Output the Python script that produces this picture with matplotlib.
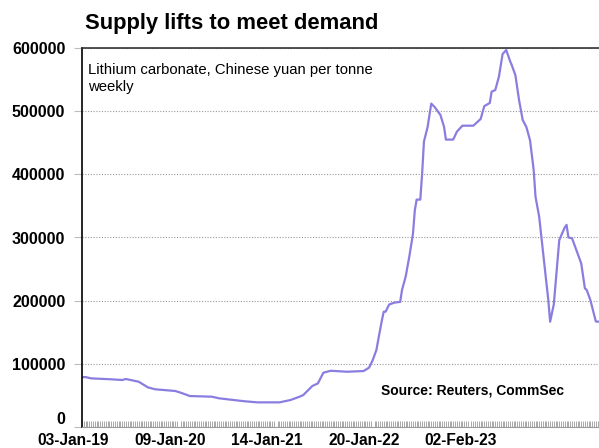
import matplotlib
matplotlib.use("Agg")
import matplotlib.pyplot as plt
import matplotlib.transforms as mtransforms
from matplotlib.ticker import FixedLocator, MultipleLocator, NullFormatter

# Weekly lithium carbonate price (CNY per tonne), indexed by week number
week = [0, 2, 5, 16, 22, 24, 31, 36, 40, 51, 54, 59, 71, 75, 89, 96, 108, 114,
        119, 121, 126, 129, 132, 136, 145, 154, 157, 159, 161, 162, 164, 165,
        166, 168, 171, 174, 175, 177, 179, 181, 182, 183, 185, 186, 187, 189,
        191, 193, 196, 198, 199, 203, 205, 208, 214, 218, 220, 223, 224, 226,
        228, 230, 232, 234, 235, 237, 239, 241, 243, 245, 247, 248, 250, 253,
        255, 256, 258, 261, 264, 265, 266, 268, 273, 275, 276, 278, 281, 283]
price = [79000, 79000, 77000, 75500, 74400, 76000, 71700, 62800, 59700, 57000,
         54300, 49000, 48000, 45400, 40700, 39000, 39000, 42700, 48000, 50600,
         65000, 69000, 86000, 89000, 87500, 88600, 94000, 106000, 122000,
         138000, 169000, 182500, 182500, 194000, 197000, 198000, 217000,
         238000, 270000, 306000, 343000, 360000, 360000, 401000, 452000,
         475000, 512000, 506000, 494000, 475000, 455000, 455000, 467500,
         477000, 477000, 487600, 508000, 513000, 530800, 533500, 554600,
         590500, 596800, 580000, 573000, 557000, 517700, 486000, 475000,
         454000, 407000, 364600, 333000, 253600, 201000, 166700, 194000,
         296000, 316000, 320000, 300000, 298700, 259000, 219600, 217000,
         201000, 167000, 166700]

tick_weeks = [0, 53, 106, 159, 212]
tick_labels = ["03-Jan-19", "09-Jan-20", "14-Jan-21", "20-Jan-22", "02-Feb-23"]
y_ticks = [0, 100000, 200000, 300000, 400000, 500000, 600000]

plt.rcParams["font.family"] = ["Liberation Sans", "DejaVu Sans"]

W, H = 599, 448
fig = plt.figure(figsize=(W / 100, H / 100), dpi=100)
ax = fig.add_axes([82 / W, (H - 427) / H, (W - 82) / W + 0.01, (427 - 48) / H])

ax.plot(week, price, color="#8a7de0", lw=1.6, solid_joinstyle="round")

ax.set_xlim(0, 286)
ax.set_ylim(0, 600000)

# y axis: dotted grid with bold labels
ax.set_yticks(y_ticks)
ax.set_yticklabels([str(v) for v in y_ticks], fontsize=11.5, fontweight="bold")
ax.yaxis.grid(True, color="#9a9a9a", lw=0.8, ls=(0, (1, 1.5)))
ax.tick_params(axis="y", length=6, width=0.8, color="#bdbdbd", pad=6)
ax.get_yticklabels()[0].set_verticalalignment("bottom")

# x axis: a tick for every week, labels every 53 weeks
ax.xaxis.set_major_locator(FixedLocator(tick_weeks))
ax.set_xticklabels(tick_labels, fontsize=11.2, fontweight="bold")
ax.xaxis.set_minor_locator(MultipleLocator(1))
ax.xaxis.set_minor_formatter(NullFormatter())
ax.tick_params(axis="x", which="major", length=0, pad=4.5)
ax.tick_params(axis="x", which="minor", direction="in", length=4, width=0.6,
               color="#9a9a9a")
shift = mtransforms.ScaledTranslation(-9 / 100, 0, fig.dpi_scale_trans)
for lbl in ax.get_xticklabels():
    lbl.set_transform(lbl.get_transform() + shift)

ax.spines["right"].set_visible(False)
ax.spines["left"].set_color("black")
ax.spines["left"].set_linewidth(1.2)
ax.spines["top"].set_color("#333333")
ax.spines["top"].set_linewidth(1.2)
ax.spines["bottom"].set_color("#9a9a9a")
ax.spines["bottom"].set_linewidth(0.8)

fig.text(85 / W, 1 - 24 / H, "Supply lifts to meet demand", fontsize=15.8,
         fontweight="bold", va="center", ha="left")
ax.text(88 / W, 1 - 63 / H, "Lithium carbonate, Chinese yuan per tonne\nweekly",
        transform=fig.transFigure, fontsize=10.7, va="top", ha="left",
        linespacing=1.25)
ax.text(381 / W, 1 - 390 / H, "Source: Reuters, CommSec",
        transform=fig.transFigure, fontsize=10, fontweight="bold",
        va="center", ha="left")

fig.savefig("out.png", dpi=100)
